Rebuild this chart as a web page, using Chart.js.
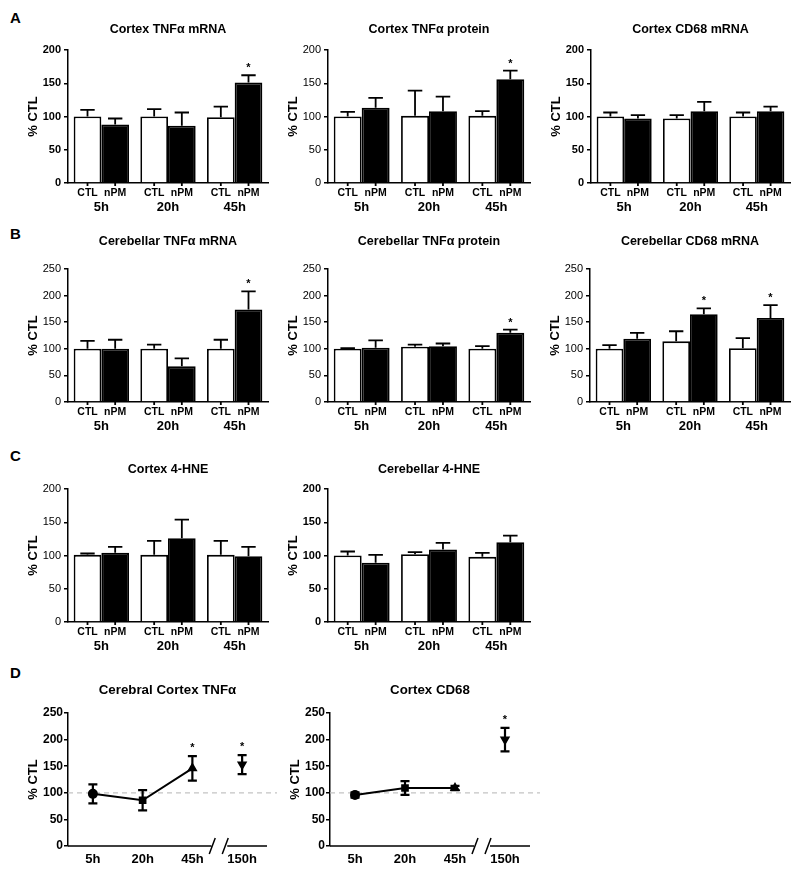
<!DOCTYPE html>
<html>
<head>
<meta charset="utf-8">
<script src="https://cdn.jsdelivr.net/npm/chart.js@4.4.1/dist/chart.umd.min.js"></script>
<style>
  body { margin: 0; background: #fff; width: 800px; height: 877px; position: relative; overflow: hidden; }
  .letter { position: absolute; font: bold 15px Arial, "Liberation Sans", sans-serif; color: #000; }
</style>
</head>
<body>
<div class="letter" style="left:10px;top:9px">A</div>
<div class="letter" style="left:10px;top:225px">B</div>
<div class="letter" style="left:10px;top:447px">C</div>
<div class="letter" style="left:10px;top:664px">D</div>
<script>
const FONT = 'Arial, "Liberation Sans", sans-serif';

// ---- data ----
const groups = ['5h', '20h', '45h'];
const conditions = ['CTL', 'nPM'];
const timeLabels = ['5h', '20h', '45h', '150h'];

// A: cortex
const cortexTnfMrnaCtl = [100, 100, 99];
const cortexTnfMrnaCtlErr = [10, 11, 16];
const cortexTnfMrnaNpm = [88, 86, 151];
const cortexTnfMrnaNpmErr = [9, 20, 11];
const cortexTnfMrnaSig = [0, 0, 1];

const cortexTnfProtCtl = [100, 101, 101];
const cortexTnfProtCtlErr = [7, 38, 7];
const cortexTnfProtNpm = [113, 108, 156];
const cortexTnfProtNpmErr = [15, 22, 13];
const cortexTnfProtSig = [0, 0, 1];

const cortexCd68Ctl = [100, 97, 100];
const cortexCd68CtlErr = [6, 5, 6];
const cortexCd68Npm = [97, 108, 108];
const cortexCd68NpmErr = [5, 14, 7];
const cortexCd68Sig = [0, 0, 0];

// B: cerebellum
const cbTnfMrnaCtl = [100, 100, 100];
const cbTnfMrnaCtlErr = [15, 8, 17];
const cbTnfMrnaNpm = [100, 67, 174];
const cbTnfMrnaNpmErr = [17, 15, 34];
const cbTnfMrnaSig = [0, 0, 1];

const cbTnfProtCtl = [100, 104, 100];
const cbTnfProtCtlErr = [1, 4, 5];
const cbTnfProtNpm = [102, 105, 130];
const cbTnfProtNpmErr = [14, 5, 6];
const cbTnfProtSig = [0, 0, 1];

const cbCd68Ctl = [100, 114, 101];
const cbCd68CtlErr = [7, 19, 19];
const cbCd68Npm = [119, 165, 158];
const cbCd68NpmErr = [11, 11, 24];
const cbCd68Sig = [0, 1, 1];

// C: 4-HNE
const cortexHneCtl = [101, 101, 101];
const cortexHneCtlErr = [2, 21, 21];
const cortexHneNpm = [104, 126, 99];
const cortexHneNpmErr = [9, 28, 14];
const cortexHneSig = [0, 0, 0];

const cbHneCtl = [100, 102, 98];
const cbHneCtlErr = [6, 3, 6];
const cbHneNpm = [89, 109, 120];
const cbHneNpmErr = [12, 10, 10];
const cbHneSig = [0, 0, 0];

// D: time course
const cortexTnfTime = [98, 86, 146, 153];
const cortexTnfTimeErr = [18, 19, 23, 18];
const cortexTnfTimeSig = [0, 0, 1, 1];

const cortexCd68Time = [96, 109, 109, 200];
const cortexCd68TimeErr = [5, 13, 4, 22];
const cortexCd68TimeSig = [0, 0, 0, 1];

const markerStyles = ['circle', 'rect', 'triangle', 'triangle'];
const markerRotation = [0, 0, 0, 180];

// ---- layout helpers ----
const PAD_L = 60, PAD_T = 40, PAD_R = 10, PAD_B = 40;

function place(L, R, T, B) {
  const div = document.createElement('div');
  div.style.cssText = `position:absolute;left:${L - PAD_L}px;top:${T - PAD_T}px`;
  const c = document.createElement('canvas');
  c.width = R - L + PAD_L + PAD_R;
  c.height = B - T + PAD_T + PAD_B;
  div.appendChild(c);
  document.body.appendChild(div);
  return c;
}

// titles, y title, error bars, stars, bar labels, broken axis
const deco = {
  id: 'deco',
  beforeDatasetsDraw(chart, args, o) {
    if (o.kind !== 'line') return;
    const ctx = chart.ctx, a = chart.chartArea, y = chart.scales.y.getPixelForValue(100);
    ctx.save();
    ctx.strokeStyle = '#c4c4c4';
    ctx.lineWidth = 1.2;
    ctx.setLineDash([5, 4]);
    ctx.beginPath();
    ctx.moveTo(a.left, y);
    ctx.lineTo(a.right + 10, y);
    ctx.stroke();
    ctx.restore();
  },
  afterDatasetsDraw(chart, args, o) {
    const ctx = chart.ctx, a = chart.chartArea, ys = chart.scales.y, xs = chart.scales.x;
    ctx.save();
    ctx.fillStyle = '#000';
    ctx.strokeStyle = '#000';
    ctx.lineWidth = 1.8;

    // title
    ctx.font = `bold ${o.titleSize}px ${FONT}`;
    ctx.textAlign = 'center';
    ctx.textBaseline = 'middle';
    ctx.fillText(o.title, (a.left + a.right) / 2, a.top - o.titleGap);

    // y title
    ctx.save();
    ctx.translate(a.left - 35, (a.top + a.bottom) / 2);
    ctx.rotate(-Math.PI / 2);
    ctx.font = `bold 13px ${FONT}`;
    ctx.fillText('% CTL', 0, 0);
    ctx.restore();

    if (o.kind === 'bar') {
      chart.data.datasets.forEach((ds, di) => {
        chart.getDatasetMeta(di).data.forEach((bar, i) => {
          const top = ys.getPixelForValue(ds.data[i] + ds.err[i]);
          const half = bar.width * 0.26;
          ctx.beginPath();
          ctx.moveTo(bar.x, bar.y);
          ctx.lineTo(bar.x, top);
          ctx.moveTo(bar.x - half, top);
          ctx.lineTo(bar.x + half, top);
          // small tick under the bar
          ctx.moveTo(bar.x, a.bottom);
          ctx.lineTo(bar.x, a.bottom + 3);
          ctx.stroke();
          if (ds.sig && ds.sig[i]) {
            ctx.font = `bold 11px ${FONT}`;
            ctx.fillText('*', bar.x, top - 7);
          }
        });
      });
      const m0 = chart.getDatasetMeta(0), m1 = chart.getDatasetMeta(1);
      groups.forEach((g, i) => {
        ctx.font = `bold 10.5px ${FONT}`;
        ctx.fillText(conditions[0], m0.data[i].x, a.bottom + 10);
        ctx.fillText(conditions[1], m1.data[i].x, a.bottom + 10);
        ctx.font = `bold 13px ${FONT}`;
        ctx.fillText(g, xs.getPixelForValue(i), a.bottom + 24);
      });
    } else {
      const ds = chart.data.datasets[0];
      ctx.lineWidth = 2.2;
      chart.getDatasetMeta(0).data.forEach((pt, i) => {
        const hi = ys.getPixelForValue(ds.data[i] + ds.err[i]);
        const lo = ys.getPixelForValue(ds.data[i] - ds.err[i]);
        ctx.beginPath();
        ctx.moveTo(pt.x, lo);
        ctx.lineTo(pt.x, hi);
        ctx.moveTo(pt.x - 4.5, hi);
        ctx.lineTo(pt.x + 4.5, hi);
        ctx.moveTo(pt.x - 4.5, lo);
        ctx.lineTo(pt.x + 4.5, lo);
        ctx.stroke();
        if (ds.sig[i]) {
          ctx.font = `bold 11px ${FONT}`;
          ctx.fillText('*', pt.x, hi - 8);
        }
      });
      // broken x axis
      const p45 = xs.getPixelForValue(2), p150 = xs.getPixelForValue(3);
      const mid = (p45 + p150) / 2 + 2;
      const yb = a.bottom;
      ctx.lineWidth = 1.5;
      ctx.beginPath();
      ctx.moveTo(a.left, yb);
      ctx.lineTo(mid - 8, yb);
      ctx.moveTo(mid + 8, yb);
      ctx.lineTo(a.right, yb);
      ctx.moveTo(mid - 10, yb + 8);
      ctx.lineTo(mid - 4, yb - 8);
      ctx.moveTo(mid + 3, yb + 8);
      ctx.lineTo(mid + 9, yb - 8);
      ctx.stroke();
    }
    ctx.restore();
  }
};

function yScale(yMax, bold, size, pad) {
  return {
    min: 0, max: yMax,
    ticks: { stepSize: 50, color: '#000', padding: pad, font: { family: FONT, size: size, weight: bold ? 'bold' : 'normal' } },
    grid: { drawOnChartArea: false, color: '#000', tickLength: 4, lineWidth: 1.5 },
    border: { color: '#000', width: 1.5 },
    afterFit: s => { s.width = PAD_L; }
  };
}

function barChart(pos, title, titleGap, ctl, ctlErr, npm, npmErr, sig, yMax, bold) {
  const canvas = place(...pos);
  new Chart(canvas, {
    type: 'bar',
    data: {
      labels: groups,
      datasets: [
        { label: conditions[0], data: ctl, err: ctlErr, backgroundColor: '#fff', borderColor: '#000', borderWidth: 1.8 },
        { label: conditions[1], data: npm, err: npmErr, sig: sig, backgroundColor: '#000', borderColor: '#000', borderWidth: 1.8 }
      ]
    },
    options: {
      responsive: false,
      animation: false,
      devicePixelRatio: 1,
      barPercentage: 1,
      categoryPercentage: 0.83,
      layout: { padding: { top: PAD_T, right: PAD_R, left: 0, bottom: 0 } },
      plugins: { legend: { display: false }, tooltip: { enabled: false }, deco: { kind: 'bar', title: title, titleGap: titleGap, titleSize: 12.5 } },
      scales: {
        x: {
          offset: true,
          ticks: { display: false },
          grid: { display: false },
          border: { display: true, color: '#000', width: 1.5 },
          afterFit: s => { s.height = PAD_B; }
        },
        y: yScale(yMax, bold, 11, 3)
      }
    },
    plugins: [deco]
  });
}

function timeChart(pos, title, values, errs, sig) {
  const canvas = place(...pos);
  new Chart(canvas, {
    type: 'line',
    data: {
      labels: timeLabels,
      datasets: [{
        data: values, err: errs, sig: sig,
        borderColor: '#000', borderWidth: 2, backgroundColor: '#000',
        pointStyle: markerStyles, rotation: markerRotation, pointRadius: 4,
        segment: { borderColor: c => c.p1DataIndex === 3 ? 'rgba(0,0,0,0)' : '#000' }
      }]
    },
    options: {
      responsive: false,
      animation: false,
      devicePixelRatio: 1,
      layout: { padding: { top: PAD_T, right: PAD_R, left: 0, bottom: 0 } },
      plugins: { legend: { display: false }, tooltip: { enabled: false }, deco: { kind: 'line', title: title, titleGap: 23, titleSize: 13.3 } },
      scales: {
        x: {
          offset: true,
          ticks: { color: '#000', padding: 6, font: { family: FONT, size: 13, weight: 'bold' } },
          grid: { display: false, drawTicks: false },
          border: { display: false },
          afterFit: s => { s.height = PAD_B; }
        },
        y: yScale(250, true, 12, 1)
      }
    },
    plugins: [deco]
  });
}

// ---- charts ----
barChart([68, 268, 50, 183], 'Cortex TNF\u03b1 mRNA', 20, cortexTnfMrnaCtl, cortexTnfMrnaCtlErr, cortexTnfMrnaNpm, cortexTnfMrnaNpmErr, cortexTnfMrnaSig, 200, true);
barChart([328, 530, 50, 183], 'Cortex TNF\u03b1 protein', 20, cortexTnfProtCtl, cortexTnfProtCtlErr, cortexTnfProtNpm, cortexTnfProtNpmErr, cortexTnfProtSig, 200, false);
barChart([591, 790, 50, 183], 'Cortex CD68 mRNA', 20, cortexCd68Ctl, cortexCd68CtlErr, cortexCd68Npm, cortexCd68NpmErr, cortexCd68Sig, 200, true);

barChart([68, 268, 269, 402], 'Cerebellar TNF\u03b1 mRNA', 27, cbTnfMrnaCtl, cbTnfMrnaCtlErr, cbTnfMrnaNpm, cbTnfMrnaNpmErr, cbTnfMrnaSig, 250, false);
barChart([328, 530, 269, 402], 'Cerebellar TNF\u03b1 protein', 27, cbTnfProtCtl, cbTnfProtCtlErr, cbTnfProtNpm, cbTnfProtNpmErr, cbTnfProtSig, 250, false);
barChart([590, 790, 269, 402], 'Cerebellar CD68 mRNA', 27, cbCd68Ctl, cbCd68CtlErr, cbCd68Npm, cbCd68NpmErr, cbCd68Sig, 250, false);

barChart([68, 268, 489, 622], 'Cortex 4-HNE', 19, cortexHneCtl, cortexHneCtlErr, cortexHneNpm, cortexHneNpmErr, cortexHneSig, 200, false);
barChart([328, 530, 489, 622], 'Cerebellar 4-HNE', 19, cbHneCtl, cbHneCtlErr, cbHneNpm, cbHneNpmErr, cbHneSig, 200, true);

timeChart([68, 267, 713, 846], 'Cerebral Cortex TNF\u03b1', cortexTnfTime, cortexTnfTimeErr, cortexTnfTimeSig);
timeChart([330, 530, 713, 846], 'Cortex CD68', cortexCd68Time, cortexCd68TimeErr, cortexCd68TimeSig);
</script>
</body>
</html>
